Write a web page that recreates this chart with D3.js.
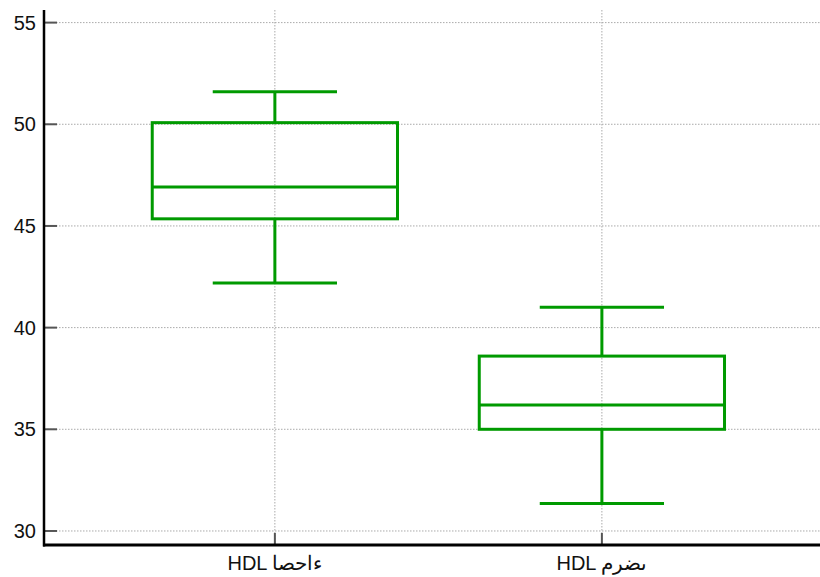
<!DOCTYPE html>
<html>
<head>
<meta charset="utf-8">
<script src="https://cdn.jsdelivr.net/npm/d3@7"></script>
<style>
  body { margin: 0; background: #fff; }
  svg { display: block; }
</style>
</head>
<body>
<script>
// box plot data
var categories = ["HDL اصحاء", "HDL مرضى"];
var whiskerLow  = [42.2, 31.35];
var q1          = [45.35, 35.0];
var medians     = [46.92, 36.2];
var q3          = [50.08, 38.6];
var whiskerHigh = [51.6, 41.0];
var yTicks = [30, 35, 40, 45, 50, 55];

var width = 820, height = 577;
var plotLeft = 44, plotBottom = 545, plotTop = 10;

var svg = d3.select("body").append("svg")
    .attr("width", width)
    .attr("height", height);

// positions 1 and 2 for the two groups
var x = d3.scaleLinear().domain([0.294, 2.667]).range([plotLeft, width]);
var y = d3.scaleLinear().domain([29.31, 55.62]).range([plotBottom, plotTop]);

var green = "#009a00";

// grid
var grid = svg.append("g").attr("class", "grid");
grid.selectAll(".hgrid")
    .data(yTicks)
    .enter().append("line")
    .attr("x1", plotLeft).attr("x2", width)
    .attr("y1", function(d) { return y(d); })
    .attr("y2", function(d) { return y(d); })
    .attr("stroke", "#aaa")
    .attr("stroke-width", 1)
    .attr("stroke-dasharray", "1.5,1.5");
grid.selectAll(".vgrid")
    .data(categories)
    .enter().append("line")
    .attr("x1", function(d, i) { return x(i + 1); })
    .attr("x2", function(d, i) { return x(i + 1); })
    .attr("y1", plotTop).attr("y2", plotBottom)
    .attr("stroke", "#aaa")
    .attr("stroke-width", 1)
    .attr("stroke-dasharray", "1.5,1.5");

// boxes
var boxW = 0.75, capW = 0.38;
var boxes = svg.selectAll(".box")
    .data(categories)
    .enter().append("g")
    .attr("class", "box")
    .attr("stroke", green)
    .attr("stroke-width", 3)
    .attr("fill", "none");

boxes.append("line")
    .attr("x1", function(d, i) { return x(i + 1); })
    .attr("x2", function(d, i) { return x(i + 1); })
    .attr("y1", function(d, i) { return y(whiskerLow[i]); })
    .attr("y2", function(d, i) { return y(q1[i]); });
boxes.append("line")
    .attr("x1", function(d, i) { return x(i + 1); })
    .attr("x2", function(d, i) { return x(i + 1); })
    .attr("y1", function(d, i) { return y(q3[i]); })
    .attr("y2", function(d, i) { return y(whiskerHigh[i]); });
boxes.append("line")
    .attr("x1", function(d, i) { return x(i + 1 - capW / 2); })
    .attr("x2", function(d, i) { return x(i + 1 + capW / 2); })
    .attr("y1", function(d, i) { return y(whiskerLow[i]); })
    .attr("y2", function(d, i) { return y(whiskerLow[i]); });
boxes.append("line")
    .attr("x1", function(d, i) { return x(i + 1 - capW / 2); })
    .attr("x2", function(d, i) { return x(i + 1 + capW / 2); })
    .attr("y1", function(d, i) { return y(whiskerHigh[i]); })
    .attr("y2", function(d, i) { return y(whiskerHigh[i]); });
boxes.append("rect")
    .attr("x", function(d, i) { return x(i + 1 - boxW / 2); })
    .attr("width", function(d, i) { return x(i + 1 + boxW / 2) - x(i + 1 - boxW / 2); })
    .attr("y", function(d, i) { return y(q3[i]); })
    .attr("height", function(d, i) { return y(q1[i]) - y(q3[i]); });
boxes.append("line")
    .attr("x1", function(d, i) { return x(i + 1 - boxW / 2); })
    .attr("x2", function(d, i) { return x(i + 1 + boxW / 2); })
    .attr("y1", function(d, i) { return y(medians[i]); })
    .attr("y2", function(d, i) { return y(medians[i]); });

// y axis: inward ticks
var yAxis = svg.append("g");
yAxis.selectAll(".ytick")
    .data(yTicks)
    .enter().append("line")
    .attr("x1", plotLeft).attr("x2", plotLeft + 13)
    .attr("y1", function(d) { return y(d); })
    .attr("y2", function(d) { return y(d); })
    .attr("stroke", "#555")
    .attr("stroke-width", 2);
yAxis.selectAll(".ylabel")
    .data(yTicks)
    .enter().append("text")
    .attr("x", 36)
    .attr("y", function(d) { return y(d); })
    .attr("dy", "0.36em")
    .attr("text-anchor", "end")
    .attr("font-family", "Liberation Sans, Arial, sans-serif")
    .attr("font-size", "20px")
    .attr("fill", "#111")
    .text(function(d) { return d; });

// x axis ticks and labels (glyphs laid out left to right, as in the original)
var xAxis = svg.append("g");
xAxis.selectAll(".xtick")
    .data(categories)
    .enter().append("line")
    .attr("x1", function(d, i) { return x(i + 1); })
    .attr("x2", function(d, i) { return x(i + 1); })
    .attr("y1", plotBottom).attr("y2", plotBottom - 12)
    .attr("stroke", "#555")
    .attr("stroke-width", 2);
xAxis.selectAll(".xlabel")
    .data(categories)
    .enter().append("text")
    .attr("x", function(d, i) { return x(i + 1); })
    .attr("y", 570)
    .attr("text-anchor", "middle")
    .style("direction", "ltr")
    .style("unicode-bidi", "bidi-override")
    .attr("font-family", "Liberation Sans, Arial, sans-serif")
    .attr("font-size", "20px")
    .attr("fill", "#111")
    .text(function(d) { return d; });

// axis lines
svg.append("line")
    .attr("x1", plotLeft).attr("x2", plotLeft)
    .attr("y1", plotTop).attr("y2", plotBottom + 1.5)
    .attr("stroke", "#000")
    .attr("stroke-width", 2.5);
svg.append("line")
    .attr("x1", plotLeft - 1).attr("x2", width)
    .attr("y1", plotBottom).attr("y2", plotBottom)
    .attr("stroke", "#000")
    .attr("stroke-width", 3);
</script>
</body>
</html>
